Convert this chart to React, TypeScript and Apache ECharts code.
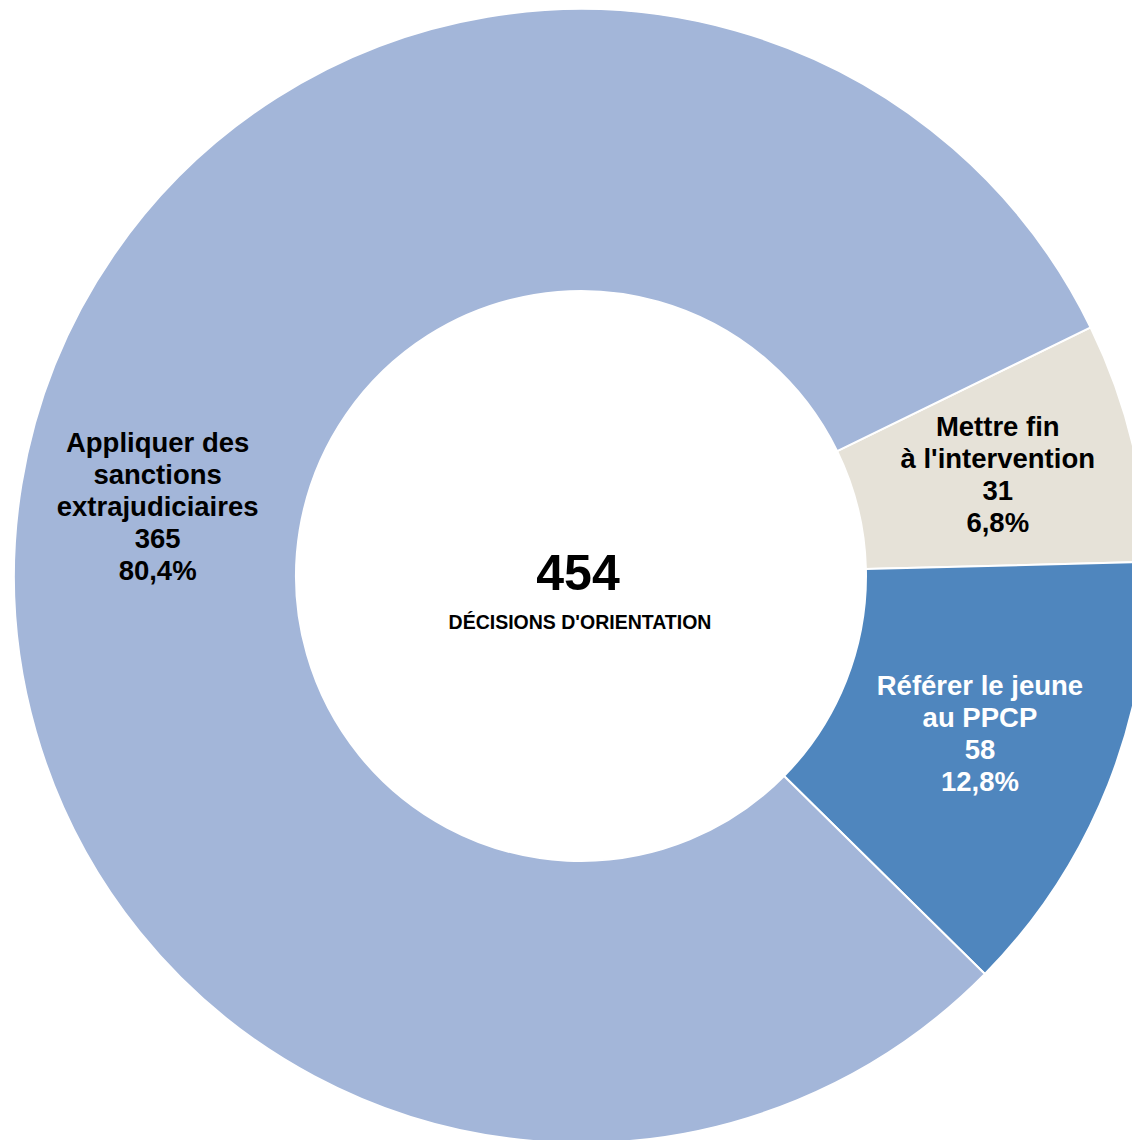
import React, { useEffect, useRef } from "react";
import * as echarts from "echarts";

const categories = ["Mettre fin\nà l'intervention", "Référer le jeune\nau PPCP", "Appliquer des\nsanctions\nextrajudiciaires"];
const values = [31, 58, 365];
const percents = ["6,8%", "12,8%", "80,4%"];
const colors = ["#E6E2D8", "#4F86BE", "#A3B6D9"];
const labelColors = ["#000000", "#FFFFFF", "#000000"];
const total = 454;
const centerTitle = "DÉCISIONS D'ORIENTATION";

export default function App() {
  const ref = useRef<HTMLDivElement>(null);
  useEffect(() => {
    document.body.style.margin = "0";
    const chart = echarts.init(ref.current!, null, { renderer: "svg" });
    chart.setOption({
      animation: false,
      backgroundColor: "#ffffff",
      graphic: [
        {
          type: "text",
          x: 578,
          y: 573,
          style: {
            text: String(total),
            fontSize: 50,
            fontWeight: "bold",
            fontFamily: "Liberation Sans, Arial, sans-serif",
            fill: "#000",
            textAlign: "center",
            textVerticalAlign: "middle",
          },
        },
        {
          type: "text",
          x: 580,
          y: 622,
          style: {
            text: centerTitle,
            fontSize: 19.5,
            fontWeight: "bold",
            fontFamily: "Liberation Sans, Arial, sans-serif",
            fill: "#000",
            textAlign: "center",
            textVerticalAlign: "middle",
          },
        },
      ],
      series: [
        {
          type: "pie",
          center: [581, 576],
          radius: [285, 567],
          startAngle: 26,
          clockwise: true,
          avoidLabelOverlap: false,
          itemStyle: { borderColor: "#ffffff", borderWidth: 2 },
          label: {
            show: true,
            position: "inside",
            fontSize: 27.5,
            lineHeight: 32,
            fontWeight: "bold",
            fontFamily: "Liberation Sans, Arial, sans-serif",
            align: "center",
          },
          labelLine: { show: false },
          data: categories.map((c, i) => ({
            name: c,
            value: values[i],
            itemStyle: { color: colors[i] },
            label: {
              color: labelColors[i],
              formatter: `${c}\n${values[i]}\n${percents[i]}`,
            },
          })),
        },
      ],
    });
    return () => chart.dispose();
  }, []);
  return <div ref={ref} style={{ width: 1132, height: 1140 }} />;
}
